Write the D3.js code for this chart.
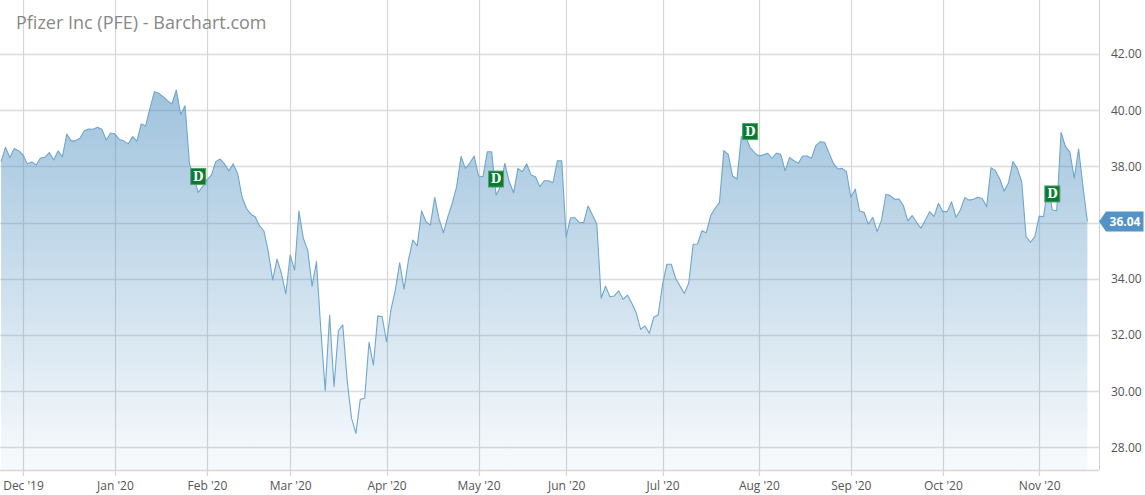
<!DOCTYPE html>
<html><head><meta charset="utf-8">
<script src="https://cdn.jsdelivr.net/npm/d3@7/dist/d3.min.js"></script>
<style>
body{margin:0;background:#fff}
svg{display:block;font-family:"Open Sans",sans-serif}
</style>
</head><body>
<svg id="chart" width="1145" height="495"></svg>
<script>
// ---- data ----
const title = "Pfizer Inc (PFE) - Barchart.com";
// trading-day index of closes[0] (index 0 = Dec 2, 2019)
const firstIndex = -5;
const closes = [
38.17,38.68,38.32,38.64,38.56,
38.41,38.09,38.16,38.05,38.30,38.32,38.49,38.23,38.55,38.35,
39.15,38.91,38.91,39.00,39.27,39.33,39.32,39.39,39.32,38.94,39.19,
39.15,38.96,38.91,38.80,39.06,38.90,39.51,39.44,40.07,40.66,
40.60,40.48,40.34,40.22,40.72,39.85,40.16,38.11,37.63,37.07,37.28,
37.52,37.69,38.17,38.26,38.09,37.84,38.09,37.75,36.92,36.51,
36.30,36.21,35.88,35.71,34.96,33.96,34.70,34.19,33.46,
34.85,34.31,36.41,35.44,35.02,33.74,34.61,32.18,30.02,32.71,
30.16,32.15,32.36,30.40,29.04,28.50,29.71,29.75,31.74,30.93,
32.68,32.65,
31.76,32.89,33.60,34.57,33.63,34.67,35.38,35.17,36.42,36.03,
35.91,36.90,36.12,35.64,36.21,36.69,37.28,38.35,37.93,38.11,
38.37,
37.66,37.63,38.52,38.52,36.98,37.28,38.11,37.46,37.06,37.93,
37.81,38.09,37.69,37.63,37.28,37.49,37.49,37.42,38.20,38.20,
35.48,36.17,36.17,36.01,36.00,36.59,36.27,35.95,33.31,33.74,
33.36,33.39,33.57,33.27,33.42,33.13,32.79,32.20,32.32,32.06,
32.63,32.71,
33.78,34.52,34.52,34.02,33.74,33.48,33.86,35.23,35.24,35.71,
35.64,36.25,36.51,36.71,38.56,38.43,37.66,37.55,39.06,39.06,
38.67,38.49,
38.37,38.41,38.47,38.29,38.47,38.43,37.84,38.32,38.20,38.11,
38.37,38.37,38.29,38.74,38.88,38.86,38.49,38.11,37.91,37.93,
37.81,
36.90,37.19,36.41,36.37,35.95,36.19,35.68,36.09,37.01,36.96,
36.83,36.84,36.60,36.06,36.25,36.01,35.80,36.09,36.39,36.21,
36.69,
36.39,36.39,36.74,36.19,36.45,36.89,36.80,36.83,36.90,36.86,
36.57,37.95,37.85,37.55,37.12,37.42,38.17,37.93,37.46,35.50,
35.30,35.50,
36.23,36.21,37.31,36.45,36.42,39.21,38.70,38.52,37.58,38.62,
37.28,36.04
];
const monthTickIndex = [0,21,42,61,83,104,124,146,168,189,210,232];
const monthTickLabels = ["Dec '19","Jan '20","Feb '20","Mar '20","Apr '20","May '20","Jun '20","Jul '20","Aug '20","Sep '20","Oct '20","Nov '20"];
const priceTicks = [28,30,32,34,36,38,40,42];
const dividendIndex = [40,108,166,235];
const lastPrice = 36.04;

// ---- layout ----
const W = 1145, H = 495;
const plotRight = 1099, plotBottom = 470;
const svg = d3.select("#chart");

const x = d3.scaleLinear().domain([0, 232]).range([23, 1039.2]);
const y = d3.scaleLinear().domain([28, 42]).range([447.4, 54]);

const pts = closes.map((v, i) => ({i: i + firstIndex, v}));

// gradient
const defs = svg.append("defs");
const grad = defs.append("linearGradient").attr("id","fillGrad")
  .attr("gradientUnits","userSpaceOnUse")
  .attr("x1",0).attr("x2",0).attr("y1",y(d3.max(closes))).attr("y2",plotBottom);
grad.append("stop").attr("offset","0%").attr("stop-color","rgb(72,140,190)").attr("stop-opacity",0.52);
grad.append("stop").attr("offset","100%").attr("stop-color","rgb(72,140,190)").attr("stop-opacity",0.04);

// grid
const grid = svg.append("g");
grid.selectAll("line.h").data(priceTicks).join("line")
  .attr("x1",0).attr("x2",plotRight)
  .attr("y1",d=>Math.round(y(d))+0.5).attr("y2",d=>Math.round(y(d))+0.5)
  .attr("stroke","#dcdcdc").attr("stroke-width",1.5);
grid.selectAll("line.v").data(monthTickIndex).join("line")
  .attr("x1",d=>Math.round(x(d))+0.5).attr("x2",d=>Math.round(x(d))+0.5)
  .attr("y1",0).attr("y2",plotBottom+6)
  .attr("stroke","#d6d6d6").attr("stroke-width",1.2);
// plot border right & bottom
svg.append("line").attr("x1",plotRight+0.5).attr("x2",plotRight+0.5).attr("y1",0).attr("y2",plotBottom)
  .attr("stroke","#d0d0d0").attr("stroke-width",1);
svg.append("line").attr("x1",0).attr("x2",plotRight).attr("y1",plotBottom+0.5).attr("y2",plotBottom+0.5)
  .attr("stroke","#d6d6d6").attr("stroke-width",1.5);

// area + line
const area = d3.area().x(d=>x(d.i)).y0(plotBottom).y1(d=>y(d.v));
const line = d3.line().x(d=>x(d.i)).y(d=>y(d.v));
svg.append("path").datum(pts).attr("d",area).attr("fill","url(#fillGrad)");
svg.append("path").datum(pts).attr("d",line).attr("fill","none")
  .attr("stroke","#6fa6cc").attr("stroke-width",1.1).attr("stroke-linejoin","round");

// x axis labels
const xAxis = d3.axisBottom(x).tickValues(monthTickIndex)
  .tickFormat((d,k)=>monthTickLabels[k]).tickSize(0).tickPadding(0);
const gx = svg.append("g").attr("transform",`translate(0,${plotBottom})`).call(xAxis);
gx.select(".domain").remove();
gx.selectAll("text").attr("y",20).attr("dy",0).attr("fill","#555").attr("font-size",12)
  .attr("font-family","'Open Sans',sans-serif");

// y axis labels (right)
const yAxis = d3.axisRight(y).tickValues(priceTicks).tickFormat(d3.format(".2f")).tickSize(0).tickPadding(0);
const gy = svg.append("g").attr("transform",`translate(1111,0)`).call(yAxis);
gy.select(".domain").remove();
gy.selectAll("text").attr("fill","#555").attr("font-size",12).attr("font-family","'Open Sans',sans-serif");

// dividend markers
const divG = svg.append("g");
const byIdx = new Map(pts.map(p=>[p.i,p.v]));
const dm = divG.selectAll("g").data(dividendIndex).join("g")
  .attr("transform",d=>`translate(${x(d)},${y(byIdx.get(d))-16})`);
dm.append("rect").attr("x",-7.5).attr("y",-8).attr("width",15).attr("height",16)
  .attr("fill","#0a7a33").attr("stroke","#4fa268").attr("stroke-width",1);
dm.append("text").text("D").attr("text-anchor","middle").attr("dy","0.36em")
  .attr("fill","#fff").attr("font-family","'DejaVu Serif','Liberation Serif',serif")
  .attr("font-weight","bold").attr("font-size",12);

// last price label
const ly = y(lastPrice);
svg.append("path")
  .attr("d",`M${plotRight},${ly} L${plotRight+7},${ly-10} L${W-1.5},${ly-10} L${W-1.5},${ly+10} L${plotRight+7},${ly+10} Z`)
  .attr("fill","#5393c5");
svg.append("text").attr("x",1125).attr("y",ly).attr("dy","0.36em").attr("text-anchor","middle")
  .attr("fill","#fff").attr("font-weight","bold").attr("font-size",12).text(d3.format(".2f")(lastPrice));

// title
svg.append("text").attr("x",16).attr("y",29).attr("fill","#888").attr("font-size",18).text(title);
</script>
</body></html>
